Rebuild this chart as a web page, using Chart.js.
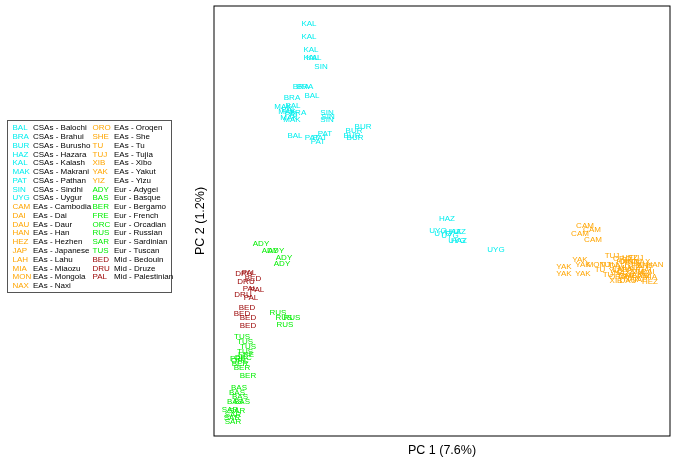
<!DOCTYPE html>
<html>
<head>
<meta charset="utf-8">
<script src="https://cdn.jsdelivr.net/npm/chart.js@4/dist/chart.umd.min.js"></script>
<style>
html,body{margin:0;padding:0;background:#fff;}
#wrap{width:678px;height:460px;position:relative;}
</style>
</head>
<body>
<div id="wrap"><canvas id="c" width="678" height="460"></canvas></div>
<script>
// ---- Data (PC scores) ----
const xTitle = "PC 1 (7.6%)";
const yTitle = "PC 2 (1.2%)";

const groupNames = ["CSAs", "EAs", "Eur", "Mid"];
const groupColors = ["#00EEEE", "#FFA500", "#00EE00", "#990000"];

const csaCodes = ["KAL","KAL","KAL","KAL","KAL","SIN","BRA","BRA","BAL","BRA","MAK","BAL","BAL","MAK","BRA","PAT","MAK","MAK","SIN","SIN","SIN","BUR","BUR","BUR","BUR","BAL","PAT","PAT","PAT","PAT","HAZ","UYG","UYG","HAZ","HAZ","UYG","UYG","HAZ","UYG"];
const csaPC1 = [-0.091,-0.091,-0.089,-0.089,-0.086,-0.079,-0.099,-0.095,-0.088,-0.108,-0.117,-0.107,-0.111,-0.113,-0.102,-0.108,-0.111,-0.108,-0.073,-0.072,-0.073,-0.037,-0.046,-0.048,-0.045,-0.105,-0.088,-0.075,-0.080,-0.082,0.047,0.038,0.043,0.053,0.058,0.050,0.057,0.059,0.096];
const csaPC2 = [0.276,0.263,0.250,0.242,0.242,0.233,0.213,0.213,0.204,0.202,0.193,0.194,0.190,0.188,0.187,0.185,0.182,0.180,0.187,0.183,0.180,0.173,0.169,0.164,0.162,0.164,0.162,0.166,0.162,0.158,0.081,0.069,0.066,0.068,0.068,0.064,0.059,0.059,0.050];

const easCodes = ["CAM","CAM","CAM","CAM","YAK","YAK","YAK","YAK","YAK","MON","TU","TU","TU","TU","TUJ","HEZ","ORO","HAN","NAX","SHE","HAN","DAU","HAN","MIA","YIZ","LAH","LAH","DAI","MIA","DAI","NAX","JAP","YIZ","SHE","ORO","JAP","XIB","DAU","HEZ","ORO","TUJ","SHE","NAX","LAH","MIA","DAI","YIZ"];
const easPC1 = [0.185,0.192,0.180,0.193,0.180,0.164,0.164,0.183,0.183,0.196,0.205,0.212,0.200,0.208,0.212,0.230,0.222,0.225,0.242,0.233,0.255,0.218,0.240,0.225,0.234,0.230,0.220,0.245,0.238,0.248,0.222,0.235,0.245,0.228,0.218,0.240,0.216,0.228,0.250,0.228,0.236,0.245,0.232,0.240,0.250,0.225,0.215];
const easPC2 = [0.074,0.070,0.066,0.060,0.040,0.033,0.026,0.026,0.035,0.035,0.035,0.035,0.030,0.025,0.044,0.042,0.041,0.038,0.038,0.037,0.035,0.034,0.034,0.032,0.032,0.030,0.030,0.030,0.028,0.028,0.027,0.025,0.024,0.024,0.023,0.020,0.019,0.019,0.018,0.038,0.042,0.034,0.021,0.024,0.023,0.024,0.029];

const eurCodes = ["ADY","ADY","ADY","ADY","ADY","RUS","RUS","RUS","RUS","TUS","TUS","TUS","TUS","FRE","ORC","FRE","ORC","BER","BER","BER","BAS","BAS","BAS","BAS","BAS","SAR","SAR","SAR","SAR","SAR"];
const eurPC1 = [-0.139,-0.130,-0.124,-0.116,-0.118,-0.122,-0.116,-0.108,-0.115,-0.158,-0.155,-0.152,-0.155,-0.154,-0.157,-0.162,-0.160,-0.160,-0.158,-0.152,-0.161,-0.163,-0.160,-0.165,-0.158,-0.170,-0.163,-0.167,-0.168,-0.167];
const eurPC2 = [0.056,0.049,0.049,0.042,0.036,-0.013,-0.018,-0.018,-0.025,-0.037,-0.042,-0.047,-0.052,-0.055,-0.058,-0.059,-0.061,-0.064,-0.068,-0.076,-0.088,-0.093,-0.097,-0.102,-0.102,-0.110,-0.111,-0.115,-0.118,-0.122];

const midCodes = ["DRU","PAL","BED","DRU","PAL","PAL","DRU","PAL","BED","BED","BED","BED"];
const midPC1 = [-0.156,-0.151,-0.147,-0.154,-0.150,-0.143,-0.157,-0.149,-0.153,-0.158,-0.152,-0.152];
const midPC2 = [0.026,0.027,0.021,0.018,0.011,0.010,0.005,0.002,-0.008,-0.014,-0.018,-0.026];

const legendCodes = ["BAL","BRA","BUR","HAZ","KAL","MAK","PAT","SIN","UYG","CAM","DAI","DAU","HAN","HEZ","JAP","LAH","MIA","MON","NAX",
                     "ORO","SHE","TU","TUJ","XIB","YAK","YIZ","ADY","BAS","BER","FRE","ORC","RUS","SAR","TUS","BED","DRU","PAL"];
const legendNames = ["CSAs - Balochi","CSAs - Brahui","CSAs - Burusho","CSAs - Hazara","CSAs - Kalash","CSAs - Makrani","CSAs - Pathan","CSAs - Sindhi","CSAs - Uygur",
                     "EAs - Cambodia","EAs - Dai","EAs - Daur","EAs - Han","EAs - Hezhen","EAs - Japanese","EAs - Lahu","EAs - Miaozu","EAs - Mongola","EAs - Naxi",
                     "EAs - Oroqen","EAs - She","EAs - Tu","EAs - Tujia","EAs - Xibo","EAs - Yakut","EAs - Yizu",
                     "Eur - Adygei","Eur - Basque","Eur - Bergamo","Eur - French","Eur - Orcadian","Eur - Russian","Eur - Sardinian","Eur - Tuscan",
                     "Mid - Bedouin","Mid - Druze","Mid - Palestinian"];

// ---- Build datasets ----
function pts(codes, xs, ys){ return codes.map((c,i)=>({x:xs[i], y:ys[i], code:c})); }
const groupData = [pts(csaCodes,csaPC1,csaPC2), pts(easCodes,easPC1,easPC2), pts(eurCodes,eurPC1,eurPC2), pts(midCodes,midPC1,midPC2)];

const FONT = '"Liberation Sans", Arial, Helvetica, sans-serif';

const labelPlugin = {
  id: 'textPoints',
  afterDatasetsDraw(chart){
    const ctx = chart.ctx;
    ctx.save();
    ctx.font = '8px ' + FONT;
    ctx.textAlign = 'center';
    ctx.textBaseline = 'middle';
    chart.data.datasets.forEach((ds, di) => {
      const meta = chart.getDatasetMeta(di);
      ctx.fillStyle = ds.borderColor;
      meta.data.forEach((el, i) => {
        ctx.fillText(ds.data[i].code, el.x, el.y);
      });
    });
    ctx.restore();
  }
};

const framePlugin = {
  id: 'frameTitles',
  afterDraw(chart){
    const ctx = chart.ctx;
    const a = chart.chartArea;
    ctx.save();
    // plot frame
    ctx.strokeStyle = '#000';
    ctx.lineWidth = 1;
    ctx.strokeRect(a.left, a.top, a.right - a.left, a.bottom - a.top);
    // axis titles
    ctx.fillStyle = '#000';
    ctx.font = '12.5px ' + FONT;
    ctx.textAlign = 'center';
    ctx.textBaseline = 'middle';
    ctx.fillText(xTitle, (a.left + a.right) / 2, a.bottom + 15);
    ctx.save();
    ctx.translate(a.left - 13, (a.top + a.bottom) / 2);
    ctx.rotate(-Math.PI / 2);
    ctx.fillText(yTitle, 0, 0);
    ctx.restore();
    // legend box
    ctx.strokeStyle = '#555';
    ctx.strokeRect(7.5, 120.5, 164, 172);
    ctx.font = '8px ' + FONT;
    ctx.textAlign = 'left';
    const rowH = 8.77;
    legendCodes.forEach((code, i) => {
      const col = i < 19 ? 0 : 1;
      const row = col === 0 ? i : i - 19;
      const y = 128 + row * rowH;
      const name = legendNames[i];
      const g = groupNames.findIndex(gn => name.startsWith(gn));
      ctx.fillStyle = groupColors[g];
      ctx.fillText(code, col === 0 ? 12.5 : 92.5, y);
      ctx.fillStyle = '#000';
      ctx.fillText(name, col === 0 ? 33 : 114, y);
    });
    ctx.restore();
  }
};

new Chart(document.getElementById('c'), {
  type: 'scatter',
  data: {
    datasets: groupNames.map((g, i) => ({
      label: g,
      data: groupData[i],
      borderColor: groupColors[i],
      backgroundColor: groupColors[i],
      pointRadius: 0,
      pointHoverRadius: 0
    }))
  },
  options: {
    responsive: false,
    animation: false,
    events: [],
    layout: { padding: { left: 214, top: 6, right: 8, bottom: 24 } },
    plugins: { legend: { display: false }, tooltip: { enabled: false } },
    scales: {
      x: { type: 'linear', display: false, min: -0.186, max: 0.270 },
      y: { type: 'linear', display: false, min: -0.136, max: 0.294 }
    }
  },
  plugins: [labelPlugin, framePlugin]
});
</script>
</body>
</html>
